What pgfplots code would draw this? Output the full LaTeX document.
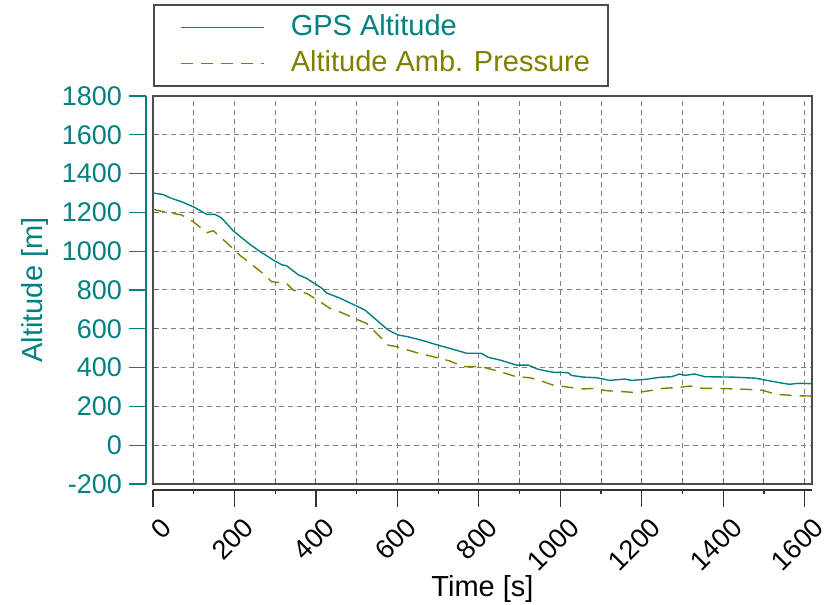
\documentclass[border=0pt]{standalone}
\usepackage{fontspec}
\setmainfont{Liberation Sans}
\usepackage{pgfplots}
\pgfplotsset{compat=1.18}

\definecolor{gpsteal}{RGB}{0,128,128}
\definecolor{presolive}{RGB}{128,128,0}
\definecolor{gridgray}{RGB}{128,128,128}

\pgfplotsset{
  common/.style={
    width=329.5pt, height=194pt, scale only axis,
    xmin=0, xmax=1618, ymin=-200, ymax=1800,
    /pgf/number format/assume math mode=true,
    /pgf/number format/1000 sep={},
  },
}

\begin{document}
\begin{tikzpicture}
% plot box, grid and the two series
\begin{axis}[common, name=main,
  axis line style={black!70, line width=0.8pt},
  xtick distance=200, minor x tick num=1, ytick distance=200,
  xticklabels={}, yticklabels={},
  xtick pos=left, ytick pos=left, tick align=inside,
  major tick length=3pt, minor tick length=3pt,
  tick style={black!60, line width=0.5pt},
  grid=both,
  major grid style={gridgray, dash pattern=on 2.5pt off 2pt, line width=0.5pt},
  minor grid style={gridgray, dash pattern=on 2.5pt off 2pt, line width=0.5pt},
  legend cell align=left,
  legend style={at={(0,1)}, anchor=south west, yshift=4.5pt,
    draw=black!70, line width=0.8pt, inner xsep=9pt, inner ysep=4.5pt,
    row sep=4.5pt, font=\fontsize{14.5}{17}\selectfont,
    nodes={inner xsep=0pt, inner ysep=0pt, text height=10.5pt, text depth=3pt}},
  legend image code/.code={\path[draw=none] (0pt,0pt) -- (59.5pt,0pt);
    \draw[#1] (4.5pt,0pt) -- (46pt,0pt);},
]
\addplot[gpsteal, line width=0.7pt] coordinates {
(0,1300)(25,1292)(42,1275)(70,1255)(99,1229)(132,1190)(152,1190)(168,1172)
(197,1105)(238,1035)(263,998)(295,955)(316,930)(328,925)(357,878)(377,860)
(402,826)(414,810)(426,785)(459,758)(500,717)(520,697)(549,645)(577,594)
(602,568)(626,559)(663,539)(704,513)(729,499)(770,474)(806,474)(823,453)
(852,439)(892,413)(921,413)(946,391)(982,376)(1019,374)(1027,360)(1056,351)
(1089,348)(1121,334)(1158,341)(1175,334)(1212,340)(1244,350)(1273,353)
(1293,367)(1306,360)(1330,367)(1355,353)(1424,351)(1481,345)(1502,336)
(1547,319)(1563,314)(1584,319)(1620,317)
};
\addlegendentry{\textcolor{gpsteal}{GPS Altitude}}
\addplot[presolive, line width=0.7pt, dash pattern=on 6pt off 4pt] coordinates {
(0,1216)(25,1204)(70,1187)(99,1152)(132,1095)(148,1106)(164,1075)(185,1036)
(213,980)(254,912)(275,877)(291,843)(328,834)(344,800)(377,783)(410,740)
(434,706)(467,680)(500,649)(524,628)(557,559)(577,516)(598,508)(647,477)
(688,456)(729,434)(761,405)(806,405)(852,379)(892,353)(925,348)(946,336)
(982,310)(1023,298)(1056,290)(1085,293)(1113,281)(1154,276)(1187,271)
(1220,281)(1252,293)(1293,298)(1318,305)(1350,293)(1383,293)(1457,288)
(1494,284)(1531,262)(1580,255)(1620,253)
};
\addlegendentry{\textcolor{presolive}{Altitude Amb. Pressure}}
\end{axis}

% detached y axis
\begin{axis}[common, xshift=-3.5pt,
  axis x line=none, axis y line*=left,
  y axis line style={gpsteal, line width=0.6pt},
  ytick distance=200, tick align=outside, major tick length=8.5pt,
  ytick style={gpsteal, line width=0.6pt},
  yticklabel style={gpsteal, font=\fontsize{13.5}{16}\selectfont},
  ylabel={Altitude [m]},
  ylabel style={gpsteal, font=\fontsize{14.5}{17}\selectfont},
]
\end{axis}

% detached x axis
\begin{axis}[common, yshift=-3pt,
  axis y line=none, axis x line*=bottom,
  x axis line style={black!80, line width=0.6pt},
  xtick distance=200, minor x tick num=1,
  tick align=outside, major tick length=8.5pt, minor tick length=2pt,
  xtick style={black!80, line width=0.6pt},
  xticklabel style={xshift=9.5pt, yshift=-5.5pt, rotate=45, anchor=east,
    font=\fontsize{13.5}{16}\selectfont},
  xlabel={Time [s]},
  xlabel style={yshift=6.5pt, font=\fontsize{14.5}{17}\selectfont},
]
\end{axis}

\pgfresetboundingbox
\path ([shift={(-76.5pt,-60.5pt)}]main.south west) rectangle ([shift={(6.5pt,48pt)}]main.north east);
\end{tikzpicture}
\end{document}
